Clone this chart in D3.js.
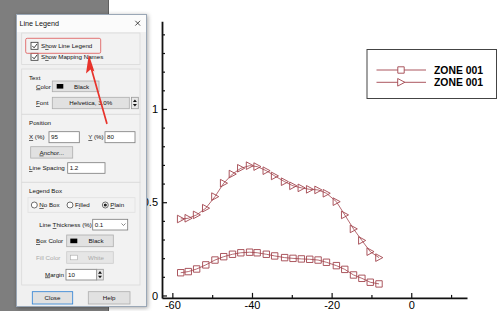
<!DOCTYPE html>
<meta charset="utf-8">
<script src="https://d3js.org/d3.v7.min.js"></script>
<style>
body { margin: 0; background: #fff; }
svg { display: block; }
.tick text { font-family: "Liberation Sans", Arial, sans-serif; font-size: 11px; fill: #000; }
.ui { font-family: "Liberation Sans", Arial, sans-serif; font-size: 6.2px; fill: #111; }
</style>
<div id="chart"></div>
<script>
// values
var xPos = [-57.9, -56.0, -53.9, -51.6, -49.3, -47.1, -44.9, -42.8, -40.6, -38.7, -36.4, -34.3,
            -31.8, -29.7, -27.6, -25.5, -23.4, -21.3, -18.8, -16.7, -14.5, -12.4, -10.3, -8.1];
var zoneSquares = [0.122, 0.128, 0.142, 0.164, 0.190, 0.208, 0.221, 0.229, 0.232, 0.229, 0.221, 0.212,
                   0.203, 0.199, 0.196, 0.194, 0.190, 0.178, 0.160, 0.140, 0.110, 0.092, 0.071, 0.062];
var zoneTriangles = [0.410, 0.414, 0.432, 0.468, 0.530, 0.602, 0.651, 0.682, 0.696, 0.691, 0.669, 0.641,
                     0.610, 0.588, 0.577, 0.569, 0.566, 0.548, 0.503, 0.432, 0.357, 0.295, 0.235, 0.203];
var xMajor = [-60, -40, -20, 0];
var xMinor = [-50, -30, -10, 10];
var yMajor = [0, 0.5, 1];
var yMinor = [0.1, 0.2, 0.3, 0.4, 0.6, 0.7, 0.8, 0.9, 1.1, 1.2, 1.3, 1.4];
var legendNames = ["ZONE 001", "ZONE 001"];

var zoneColor = "#a2444d";

var svg = d3.select("#chart").append("svg")
  .attr("width", 500)
  .attr("height", 311);

var defs = svg.append("defs");
defs.append("filter").attr("id", "shadow").attr("x", "-20%").attr("y", "-20%").attr("width", "140%").attr("height", "140%")
  .append("feDropShadow").attr("dx", 1).attr("dy", 1).attr("stdDeviation", 2).attr("flood-opacity", 0.35);

// ---------- plot ----------
var x = d3.scaleLinear().domain([-62.6, 14]).range([162, 467]);
var y = d3.scaleLinear().domain([-0.013, 1.47]).range([297.9, 21.3]);

var plot = svg.append("g");

var xAxisMinor = plot.append("g")
  .attr("transform", "translate(0," + y.range()[0] + ")")
  .call(d3.axisBottom(x).tickValues(xMinor).tickSize(-3).tickSizeOuter(0).tickFormat(""));
var xAxis = plot.append("g")
  .attr("transform", "translate(0," + y.range()[0] + ")")
  .call(d3.axisBottom(x).tickValues(xMajor).tickSize(-5).tickSizeOuter(0).tickPadding(3)
    .tickFormat(function(d) { return String(d); }));

var yAxisMinor = plot.append("g")
  .attr("transform", "translate(" + x.range()[0] + ",0)")
  .call(d3.axisLeft(y).tickValues(yMinor).tickSize(-3).tickSizeOuter(0).tickFormat(""));
var yAxis = plot.append("g")
  .attr("transform", "translate(" + x.range()[0] + ",0)")
  .call(d3.axisLeft(y).tickValues(yMajor).tickSize(-5).tickSizeOuter(0).tickPadding(4)
    .tickFormat(function(d) { return String(d); }));

plot.selectAll(".domain").attr("stroke", "#111").attr("stroke-width", 1.8);
plot.selectAll(".tick line").attr("stroke", "#111").attr("stroke-width", 1.2);
xAxisMinor.selectAll(".domain").remove();
yAxisMinor.selectAll(".domain").remove();

var line = d3.line()
  .x(function(d) { return x(d[0]); })
  .y(function(d) { return y(d[1]); });

var triPath = "M-3.3,-3.8L3.8,0L-3.3,3.8Z";
var sqPath = "M-3.2,-3.2H3.2V3.2H-3.2Z";

var series = [
  { values: zoneSquares, shape: sqPath },
  { values: zoneTriangles, shape: triPath }
];

series.forEach(function(s) {
  var pts = xPos.map(function(v, i) { return [v, s.values[i]]; });
  plot.append("path")
    .attr("d", line(pts))
    .attr("fill", "none")
    .attr("stroke", zoneColor)
    .attr("stroke-width", 0.8);
  plot.selectAll(null)
    .data(pts)
    .enter()
    .append("path")
      .attr("d", s.shape)
      .attr("transform", function(d) { return "translate(" + x(d[0]) + "," + y(d[1]) + ")"; })
      .attr("fill", "none")
      .attr("stroke", zoneColor)
      .attr("stroke-width", 0.9);
});

// legend
var legend = svg.append("g").attr("transform", "translate(367,49.5)");
legend.append("rect")
  .attr("width", 129.5).attr("height", 49)
  .attr("fill", "#fff").attr("stroke", "#444").attr("stroke-width", 1);
legendNames.forEach(function(name, i) {
  var ly = 20.5 + i * 12.3;
  legend.append("line")
    .attr("x1", 9.5).attr("x2", 59).attr("y1", ly).attr("y2", ly)
    .attr("stroke", zoneColor).attr("stroke-width", 0.9);
  legend.append("path")
    .attr("d", series[i].shape)
    .attr("transform", "translate(34," + ly + ")")
    .attr("fill", "#fff").attr("stroke", zoneColor).attr("stroke-width", 0.9);
  legend.append("text")
    .attr("x", 67).attr("y", ly + 3.8)
    .attr("font-family", "Liberation Sans, Arial, sans-serif")
    .attr("font-weight", "bold")
    .attr("font-size", "10.4px")
    .text(name);
});

// ---------- dialog on top ----------
svg.append("rect").attr("x", 0).attr("y", 0).attr("width", 109).attr("height", 311).attr("fill", "#7e7e7e");
svg.append("line").attr("x1", 108.5).attr("x2", 108.5).attr("y1", 0).attr("y2", 311).attr("stroke", "#5f5f5f");

var dlg = svg.append("g");
dlg.append("rect").attr("x", 16.5).attr("y", 14.5).attr("width", 130).attr("height", 292)
  .attr("fill", "#f0f0f0").attr("stroke", "#9aa7b6").attr("filter", "url(#shadow)");
dlg.append("rect").attr("x", 17).attr("y", 15).attr("width", 129).attr("height", 17).attr("fill", "#fbfbfb");

function label(px, py, str, opts) {
  opts = opts || {};
  var t = dlg.append("text").attr("class", "ui").attr("x", px).attr("y", py)
    .attr("text-anchor", opts.anchor || "start");
  if (opts.size) t.style("font-size", opts.size + "px");
  if (opts.color) t.style("fill", opts.color);
  if (opts.u != null) {
    t.append("tspan").text(str.slice(0, opts.u));
    t.append("tspan").attr("text-decoration", "underline").text(str.charAt(opts.u));
    t.append("tspan").text(str.slice(opts.u + 1));
  } else {
    t.text(str);
  }
  return t;
}
function box(px, py, w, h, fill, stroke) {
  return dlg.append("rect").attr("x", px).attr("y", py).attr("width", w).attr("height", h)
    .attr("fill", fill).attr("stroke", stroke).attr("stroke-width", 0.8);
}
function button(px, py, w, h, str, opts) {
  opts = opts || {};
  box(px, py, w, h, "#e1e1e1", opts.stroke || "#adadad");
  return label(px + w / 2 + (opts.shift || 0), py + h / 2 + 2.2, str, { anchor: "middle", u: opts.u, color: opts.color });
}
function input(px, py, w, h, str) {
  box(px, py, w, h, "#fff", "#7a7a7a");
  label(px + 2, py + h / 2 + 2.2, str);
}
function checkbox(px, py, str, u) {
  box(px, py, 7, 7, "#fff", "#333");
  dlg.append("path").attr("d", "M" + (px + 1.3) + "," + (py + 3.6) + "l1.8,1.9l3,-3.9")
    .attr("fill", "none").attr("stroke", "#222").attr("stroke-width", 0.9);
  label(px + 10, py + 6, str, { u: u });
}
function radio(px, py, str, on, u) {
  dlg.append("circle").attr("cx", px).attr("cy", py).attr("r", 3).attr("fill", "#fff").attr("stroke", "#333").attr("stroke-width", 0.7);
  if (on) dlg.append("circle").attr("cx", px).attr("cy", py).attr("r", 1.6).attr("fill", "#222");
  label(px + 5, py + 2.2, str, { u: u });
}
function spinner(px, py, w, h) {
  box(px, py, w, h, "#e8e8e8", "#9a9a9a");
  var cx = px + w / 2, my = py + h / 2;
  dlg.append("path").attr("d", "M" + (cx - 2) + "," + (my - 1) + "L" + cx + "," + (my - 3.6) + "L" + (cx + 2) + "," + (my - 1) + "Z").attr("fill", "#111");
  dlg.append("path").attr("d", "M" + (cx - 2) + "," + (my + 1) + "L" + cx + "," + (my + 3.6) + "L" + (cx + 2) + "," + (my + 1) + "Z").attr("fill", "#111");
}

// title bar
label(19.5, 25.6, "Line Legend", { size: 7.2 });
dlg.append("path").attr("d", "M135.3,20.8l4.8,4.8M140.1,20.8l-4.8,4.8").attr("stroke", "#222").attr("stroke-width", 0.8);

// sections
[[33, 31.5], [69, 45.3], [114.3, 68], [182.3, 102.7]].forEach(function(s) {
  dlg.append("rect").attr("x", 21.7).attr("y", s[0]).attr("width", 118.3).attr("height", s[1])
    .attr("fill", "#f2f2f2").attr("stroke", "#d9d9d9").attr("stroke-width", 0.8);
});

checkbox(31, 42.3, "Show Line Legend", 1);
checkbox(31, 53.3, "Show Mapping Names", 1);
dlg.append("rect").attr("x", 25.7).attr("y", 38.3).attr("width", 75).attr("height", 15).attr("rx", 1.5)
  .attr("fill", "none").attr("stroke", "#e06464").attr("stroke-width", 0.9);

label(29, 79.5, "Text");
label(36, 88.5, "Color", { u: 0 });
button(52.3, 81, 46.7, 10.7, "Black", { shift: 6 });
dlg.append("rect").attr("x", 56.7).attr("y", 84).attr("width", 6.6).attr("height", 4.6).attr("fill", "#000");
label(36, 105.2, "Font", { u: 0 });
button(52.3, 97.3, 77, 11.4, "Helvetica, 3.0%");
spinner(131.5, 97.3, 6.8, 11.4);

label(29, 125.2, "Position");
label(29, 139, "X (%)", { u: 0 });
input(49, 131.7, 30.3, 11, "95");
label(88.3, 139, "Y (%)", { u: 0 });
input(105, 131.7, 30, 11, "80");
button(30.7, 146.7, 42, 11.4, "Anchor...", { u: 0 });
label(29, 170.2, "Line Spacing", { u: 0 });
input(67.7, 162.7, 37.3, 10.6, "1.2");

label(29, 192.5, "Legend Box");
dlg.append("rect").attr("x", 28).attr("y", 197.7).attr("width", 107).attr("height", 14.6)
  .attr("fill", "#f2f2f2").attr("stroke", "#e0e0e0").attr("stroke-width", 0.8);
radio(34.3, 205, "No Box", false, 0);
radio(70, 205, "Filled", false, 1);
radio(105.3, 205, "Plain", true, 0);
label(39.3, 227, "Line Thickness (%)", { u: 5 });
box(92.7, 219.3, 35, 10.7, "#fff", "#7a7a7a");
label(94.7, 227, "0.1");
dlg.append("path").attr("d", "M121.5,223.5l2,2l2,-2").attr("fill", "none").attr("stroke", "#555").attr("stroke-width", 0.7);
label(36, 243, "Box Color", { u: 0 });
button(66.7, 235, 46.6, 11.7, "Black", { shift: 6 });
dlg.append("rect").attr("x", 70.3).attr("y", 238.6).attr("width", 7).attr("height", 4.6).attr("fill", "#000");
label(36, 259.5, "Fill Color", { color: "#a9a9a9" });
box(66.7, 251.7, 46.6, 11.6, "#e6e6e6", "#cccccc");
dlg.append("rect").attr("x", 70.3).attr("y", 255.2).attr("width", 7).attr("height", 4.6).attr("fill", "#fff").attr("stroke", "#aaa").attr("stroke-width", 0.6);
label(96, 259.7, "White", { anchor: "middle", color: "#a9a9a9" });
label(45, 276.5, "Margin", { u: 0 });
input(66, 269.3, 30.7, 10.7, "10");
spinner(96.7, 269.3, 6.6, 10.7);

button(32.3, 291.7, 40.4, 12.3, "Close", { stroke: "#2a7fd4" });
button(88.3, 291.7, 41.7, 12.3, "Help");

// red arrow pointing at the checkbox
var arrowColor = "#e8332b";
dlg.append("path").attr("d", "M106.8,123.3L90.6,66")
  .attr("stroke", arrowColor).attr("stroke-width", 1.7).attr("stroke-linecap", "round");
dlg.append("path").attr("d", "M88.8,54.5L94.4,71.5L90.5,69.5L86,73.6Z").attr("fill", arrowColor);
</script>
